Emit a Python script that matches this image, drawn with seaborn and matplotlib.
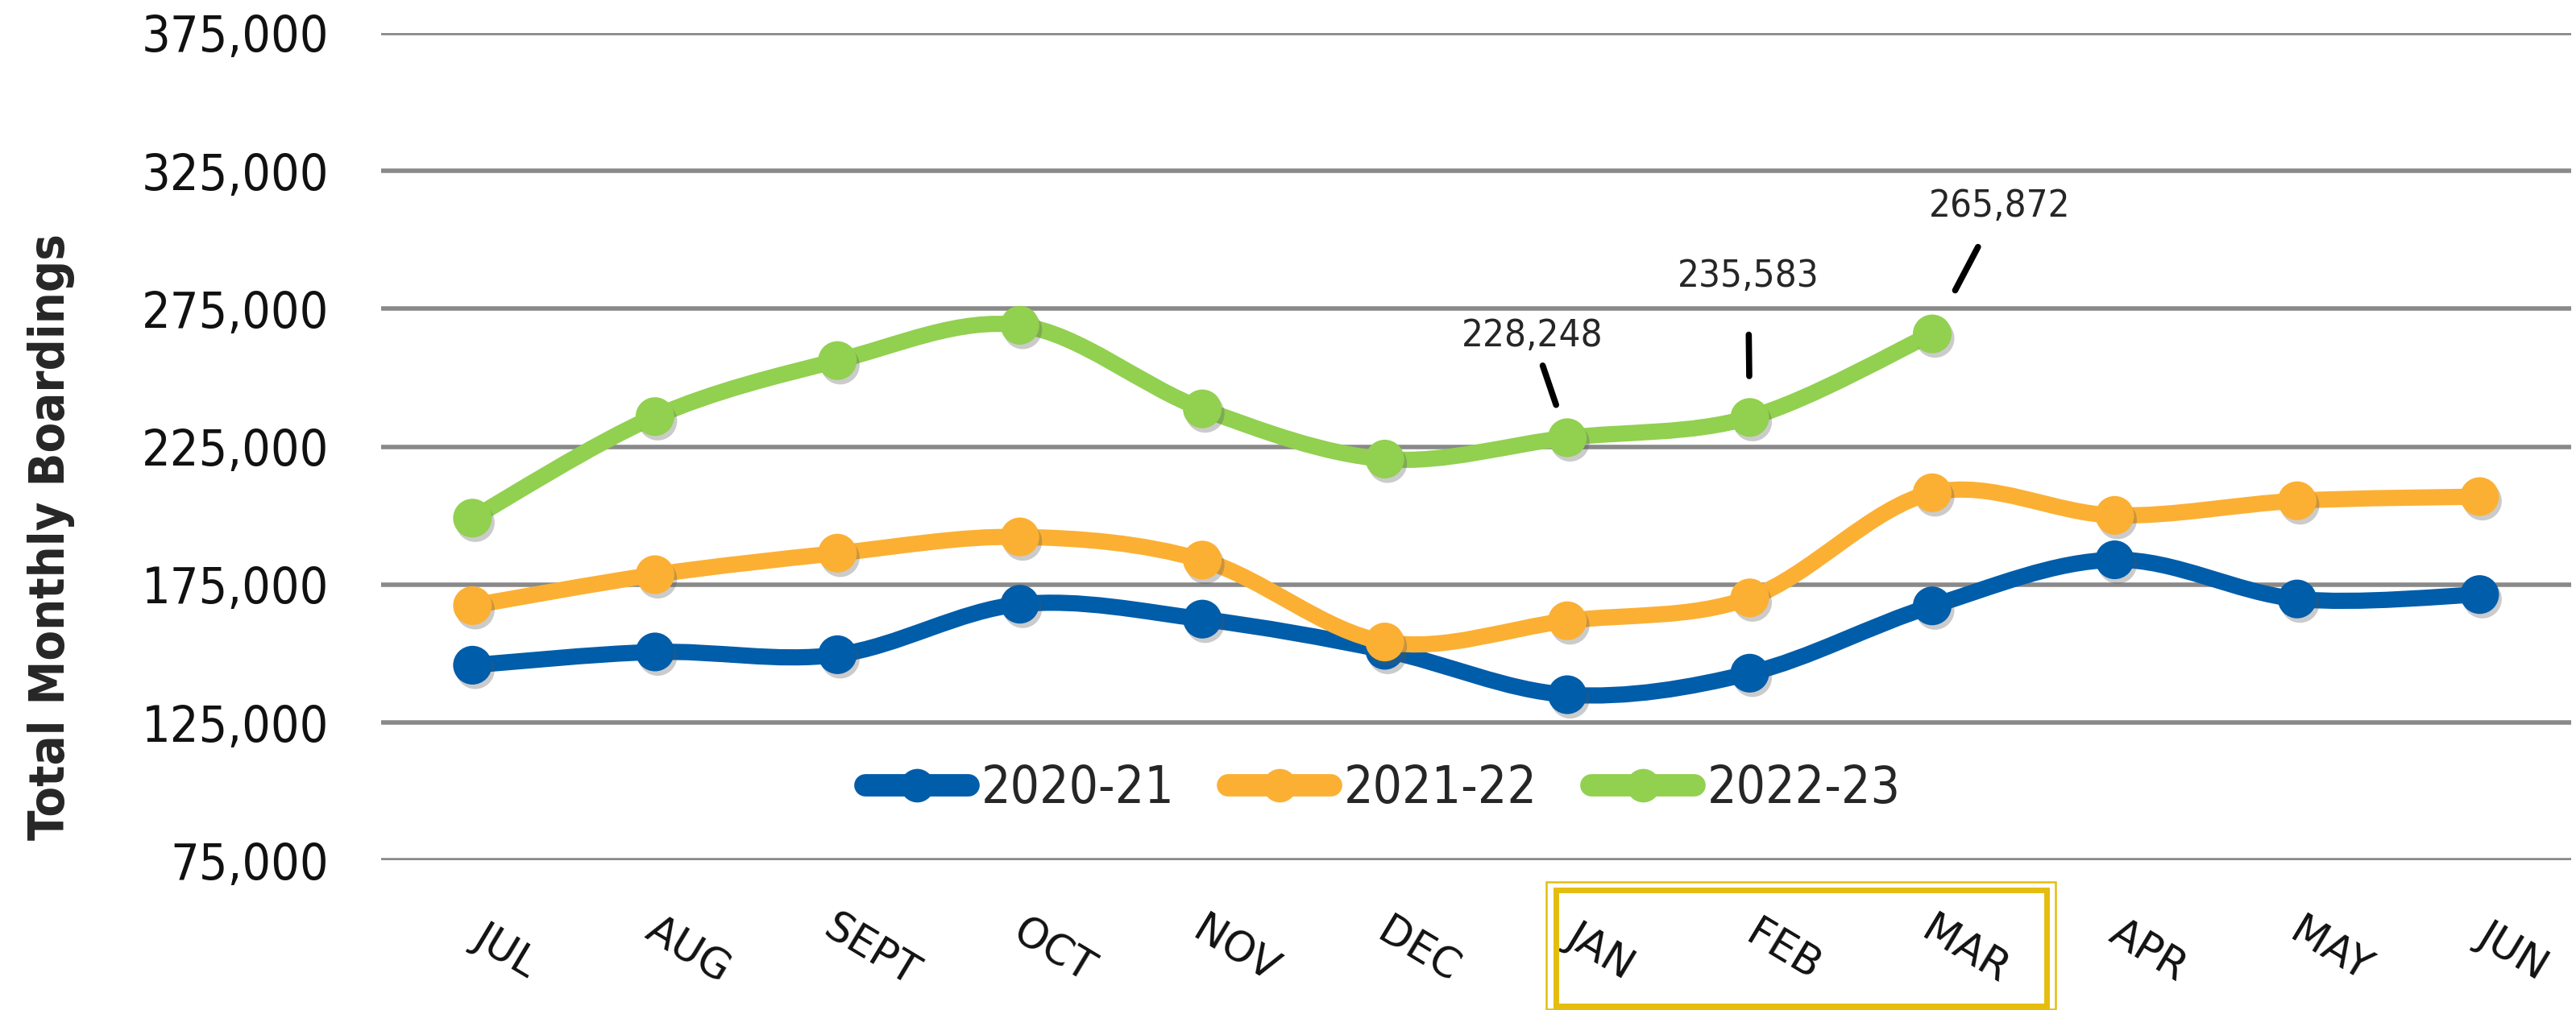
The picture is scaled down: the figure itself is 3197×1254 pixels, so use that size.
import numpy as np
import pandas as pd
import matplotlib
matplotlib.use("Agg")
import matplotlib.pyplot as plt
import seaborn as sns
from matplotlib.path import Path
from matplotlib.patches import PathPatch, Rectangle
from matplotlib.lines import Line2D
from matplotlib.ticker import FuncFormatter
import matplotlib.transforms as mtransforms
import matplotlib.patheffects as pe

# ---------------- data ----------------
months = ["JUL", "AUG", "SEPT", "OCT", "NOV", "DEC", "JAN", "FEB", "MAR", "APR", "MAY", "JUN"]
seasons = ["2020-21", "2021-22", "2022-23"]
vals_2020_21 = [145800, 150600, 149600, 167900, 162500, 151200, 135100, 142900, 167300, 184000, 169800, 171400]
vals_2021_22 = [167400, 178600, 186400, 192300, 183900, 154200, 161900, 170200, 208300, 200100, 205400, 206900]
vals_2022_23 = [199100, 235900, 256200, 269000, 238700, 220500, 228248, 235583, 265872]
labelled_months = ["JAN", "FEB", "MAR"]
colors = ["#005DAA", "#FBB034", "#92D050"]
yticks = [75000, 125000, 175000, 225000, 275000, 325000, 375000]

series = {"2020-21": vals_2020_21, "2021-22": vals_2021_22, "2022-23": vals_2022_23}
rows = []
for s in seasons:
    for i, v in enumerate(series[s]):
        rows.append({"season": s, "month": months[i], "idx": i, "value": v})
df = pd.DataFrame(rows)

# ---------------- style ----------------
sns.set_style("white")
plt.rcParams["font.family"] = ["DejaVu Sans"]
fam = ["DejaVu Sans"]

fig = plt.figure(figsize=(31.97, 12.54), dpi=100)
ax = fig.add_axes([0.148, 0.148, 0.850, 0.8195])


def smooth_path(xs, ys):
    pts = np.column_stack([xs, ys]).astype(float)
    n = len(pts)
    verts = [pts[0]]
    codes = [Path.MOVETO]
    for i in range(n - 1):
        p0 = pts[i - 1] if i > 0 else pts[i]
        p1 = pts[i]
        p2 = pts[i + 1]
        p3 = pts[i + 2] if i + 2 < n else pts[i + 1]
        c1 = p1 + (p2 - p0) / 6.0
        c2 = p2 - (p3 - p1) / 6.0
        verts += [c1, c2, p2]
        codes += [Path.CURVE4] * 3
    return Path(verts, codes)


for k, s in enumerate(seasons):
    sub = df[df.season == s]
    patch = PathPatch(smooth_path(sub.idx.values, sub.value.values), fill=False,
                      edgecolor=colors[k], lw=14.5, capstyle="round", joinstyle="round",
                      zorder=3 + 2 * k)
    ax.add_patch(patch)
    sns.scatterplot(data=sub, x="idx", y="value", color=colors[k], s=1200,
                    edgecolor="none", ax=ax, zorder=4 + 2 * k, legend=False)
    coll = ax.collections[-1]
    coll.set_path_effects([pe.SimplePatchShadow(offset=(2.5, -4), shadow_rgbFace="#555555", alpha=0.3),
                           pe.Normal()])

ax.set_xlim(-0.5, len(months) - 0.5)
ax.set_ylim(yticks[0], yticks[-1])
ax.set_yticks(yticks)
ax.yaxis.set_major_formatter(FuncFormatter(lambda v, p: f"{int(v):,}"))
ax.set_xticks(range(len(months)))
ax.tick_params(axis="y", length=0, pad=47, labelsize=45, labelcolor="#111111")
ax.tick_params(axis="x", length=0, pad=81, labelcolor="#111111")
ax.set_xticklabels(months, rotation=-31, ha="center", va="center", fontsize=37)
for lab in ax.get_yticklabels():
    lab.set_fontstretch("condensed")
shift = mtransforms.ScaledTranslation(0.41, 0, fig.dpi_scale_trans)
for lab in ax.get_xticklabels():
    lab.set_transform(lab.get_transform() + shift)
ax.set_xlabel("")
ax.set_ylabel("Total Monthly Boardings", fontsize=44, fontweight="bold",
              family=fam, fontstretch="condensed")
ax.yaxis.set_label_coords(-0.140, 0.391)
for sp in ax.spines.values():
    sp.set_visible(False)
ax.set_axisbelow(True)
ax.yaxis.grid(True, color="#898989", lw=4)
ax.xaxis.grid(False)

# annotations for latest season: (offset of text centre in points, shrinkA, shrinkB)
offsets = {"JAN": ((-31, 91), 28, 31), "FEB": ((-1.5, 126), 52, 37), "MAR": ((60, 114), 41, 44)}
for m in labelled_months:
    i = months.index(m)
    v = vals_2022_23[i]
    off, sa, sb = offsets[m]
    ax.annotate(f"{v:,}", xy=(i, v), xytext=off, textcoords="offset points",
                ha="center", va="center", fontsize=34, family=fam, fontstretch="condensed",
                arrowprops=dict(arrowstyle="-", lw=5.5, color="black", patchA=None,
                                shrinkA=sa, shrinkB=sb, relpos=(0.5, 0.5)),
                zorder=10)

# legend
handles = [Line2D([0], [0], color=c, lw=20, marker="o", markersize=29,
                  solid_capstyle="round") for c in colors]
ax.legend(handles, seasons, loc="center", bbox_to_anchor=(0.4575, 0.0866), ncol=3,
          frameon=False, prop={"family": fam, "size": 46, "stretch": "condensed"},
          handlelength=2.0, handletextpad=0.25, columnspacing=1.05)

# highlight box around the labelled months
trans = mtransforms.blended_transform_factory(ax.transData, fig.transFigure)
i0 = months.index(labelled_months[0])
i1 = months.index(labelled_months[-1])
ax.add_patch(Rectangle((i0 - 0.115, 0.0008), (i1 + 0.676) - (i0 - 0.115), 0.126,
                       transform=trans, fill=False, edgecolor="#E5BD0E", lw=1.8, clip_on=False))
ax.add_patch(Rectangle((i0 - 0.062, 0.0036), (i1 + 0.628) - (i0 - 0.062), 0.1156,
                       transform=trans, fill=False, edgecolor="#E5BD0E", lw=5, clip_on=False))

fig.savefig("out.png", dpi=100)
